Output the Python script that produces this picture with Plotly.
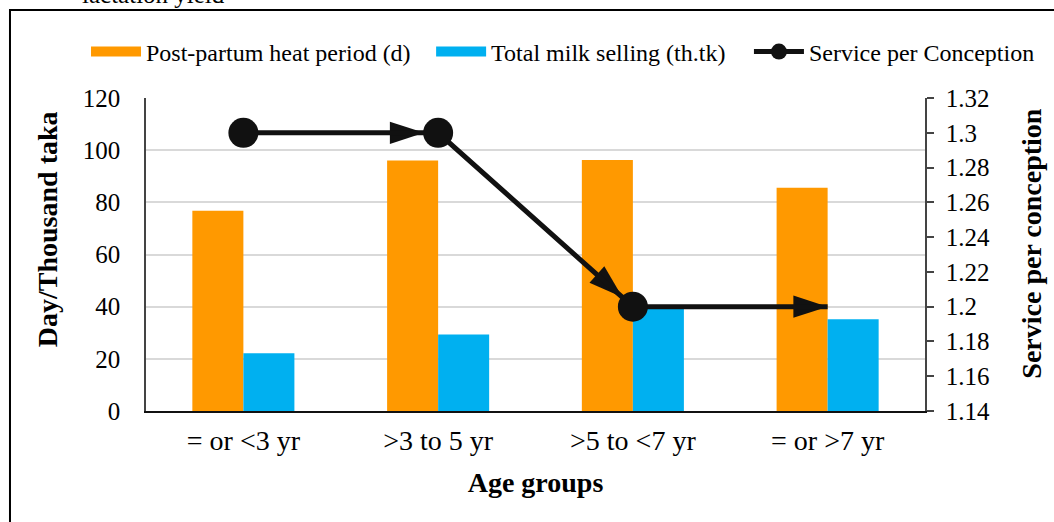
import plotly.graph_objects as go

categories = ["= or <3 yr", ">3 to 5 yr", ">5 to <7 yr", "= or >7 yr"]
heat_period = [76.8, 96.0, 96.2, 85.6]
milk_selling = [22.1, 29.3, 39.4, 35.2]
service_per_conception = [1.3, 1.3, 1.2, 1.2]

FONT = "Times New Roman, Liberation Serif, serif"
ORANGE = "#FF9900"
BLUE = "#00B0F0"
BLACK = "#111111"

fig = go.Figure()
fig.add_trace(go.Bar(x=categories, y=heat_period, name="Post-partum heat period (d)",
                     marker=dict(color=ORANGE, line=dict(width=0)), yaxis="y",
                     showlegend=False, legendgroup="heat"))
fig.add_trace(go.Bar(x=categories, y=milk_selling, name="Total milk selling (th.tk)",
                     marker=dict(color=BLUE, line=dict(width=0)), yaxis="y",
                     showlegend=False, legendgroup="milk"))
# legend swatches (wide rectangles like the reference)
fig.add_trace(go.Scatter(x=[None], y=[None], mode="lines", name="Post-partum heat period (d)",
                         line=dict(color=ORANGE, width=14), legendgroup="heat", hoverinfo="skip",
                         legend="legend"))
fig.add_trace(go.Scatter(x=[None], y=[None], mode="lines", name="Total milk selling (th.tk)",
                         line=dict(color=BLUE, width=14), legendgroup="milk", hoverinfo="skip",
                         legend="legend2"))
# arrow heads (one per segment end)
fig.add_trace(go.Scatter(x=categories, y=service_per_conception, mode="markers", yaxis="y2",
                         showlegend=False, hoverinfo="skip",
                         marker=dict(symbol="arrow", angleref="previous", color=BLACK, opacity=1,
                                     size=[0, 36, 36, 36], standoff=[0, 14, 14, 0],
                                     line=dict(width=0))))
fig.add_trace(go.Scatter(x=categories, y=service_per_conception, mode="lines+markers", yaxis="y2",
                         name="Service per Conception", legend="legend3",
                         line=dict(color=BLACK, width=5),
                         marker=dict(symbol="circle", color=BLACK, opacity=1, size=[30, 30, 30, 0],
                                     line=dict(width=0))))

leg_common = dict(orientation="h", yanchor="middle", y=1.147, xanchor="left",
                  font=dict(family=FONT, size=24), itemwidth=50, tracegroupgap=0,
                  bgcolor="rgba(0,0,0,0)")

fig.update_layout(
    width=1054, height=522,
    margin=dict(l=146, r=129, t=98, b=111),
    paper_bgcolor="white", plot_bgcolor="white",
    font=dict(family=FONT, size=24, color="black"),
    barmode="group", bargap=0.476, bargroupgap=0,
    showlegend=True,
    legend=dict(x=-0.077, **leg_common),
    legend2=dict(x=0.366, **leg_common),
    legend3=dict(x=0.774, **leg_common),
    xaxis=dict(showline=True, linecolor=BLACK, linewidth=2, ticks="", showgrid=False,
               tickfont=dict(family=FONT, size=28), ticklabelstandoff=3,
               title=dict(text="<b>Age groups</b>", font=dict(family=FONT, size=28), standoff=18)),
    yaxis=dict(range=[0, 120], dtick=20, showline=True, linecolor="#444444", linewidth=1.5,
               showgrid=True, gridcolor="#D9D9D9", gridwidth=2, zeroline=False, ticks="",
               ticklabelstandoff=19,
               tickfont=dict(family=FONT, size=25)),
    yaxis2=dict(range=[1.14, 1.32], dtick=0.02, overlaying="y", side="right",
                showline=True, linecolor="#444444", linewidth=1.5, showgrid=False, zeroline=False,
                ticks="outside", ticklen=7, tickcolor="#444444", tickwidth=1.5,
                ticklabelstandoff=7,
                tickfont=dict(family=FONT, size=25)),
    shapes=[dict(type="rect", xref="paper", yref="paper",
                 x0=-0.1746, x1=1.19, y0=-0.42, y1=1.281,
                 line=dict(color="black", width=2), fillcolor="rgba(0,0,0,0)", layer="below")],
    annotations=[
        dict(text="lactation yield", xref="paper", yref="paper",
             x=-0.0847, y=1.281, xanchor="left", yanchor="bottom",
             showarrow=False, font=dict(family=FONT, size=25)),
        dict(text="<b>Day/Thousand taka</b>", xref="paper", yref="paper",
             x=-0.127, y=0.581, xanchor="center", yanchor="middle", textangle=-90,
             showarrow=False, font=dict(family=FONT, size=28)),
        dict(text="<b>Service per conception</b>", xref="paper", yref="paper",
             x=1.137, y=0.537, xanchor="center", yanchor="middle", textangle=-90,
             showarrow=False, font=dict(family=FONT, size=28)),
    ],
)

fig.write_html("out.html", config={"displayModeBar": False},
               post_script="document.body.style.margin='0';")
